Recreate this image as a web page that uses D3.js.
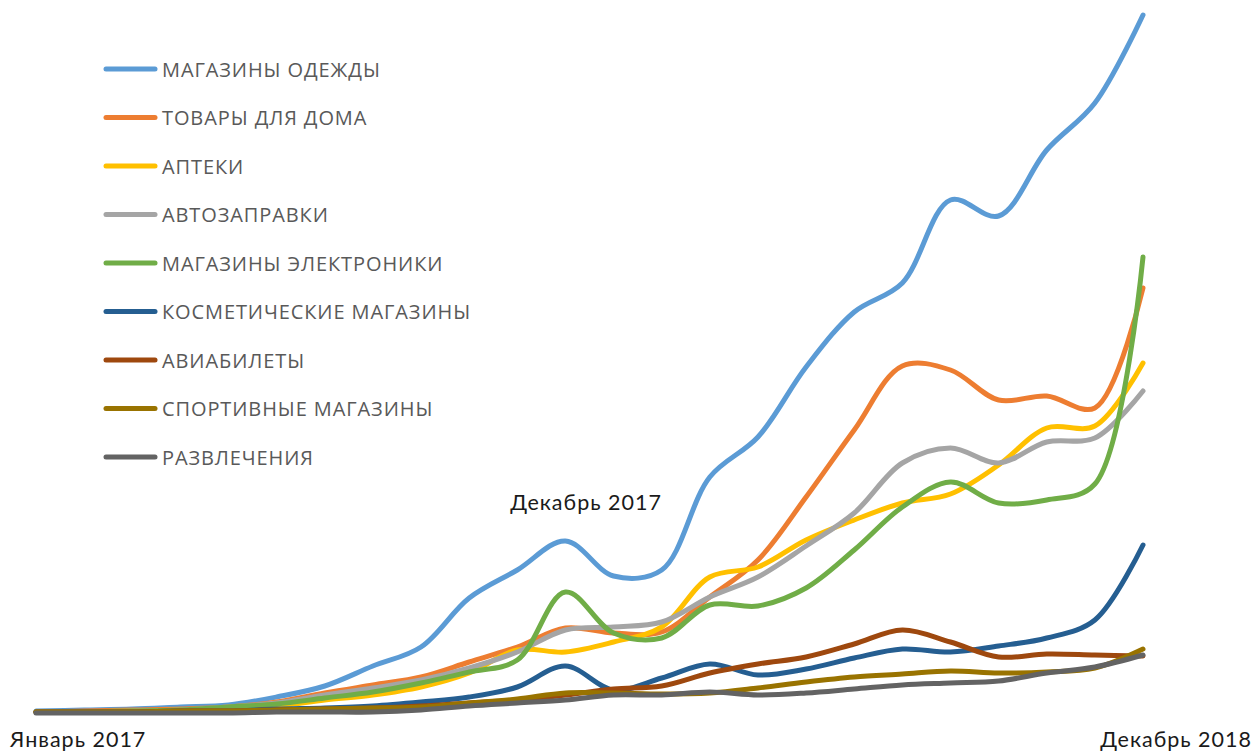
<!DOCTYPE html>
<html>
<head>
<meta charset="utf-8">
<script src="https://cdn.jsdelivr.net/npm/d3@7"></script>
<style>
  html, body { margin: 0; padding: 0; background: #fff; }
  svg { display: block; }
</style>
</head>
<body>
<svg id="chart" width="1256" height="751"></svg>
<script>
const months = [
  "Январь 2017","Февраль 2017","Март 2017","Апрель 2017","Май 2017","Июнь 2017",
  "Июль 2017","Август 2017","Сентябрь 2017","Октябрь 2017","Ноябрь 2017","Декабрь 2017",
  "Январь 2018","Февраль 2018","Март 2018","Апрель 2018","Май 2018","Июнь 2018",
  "Июль 2018","Август 2018","Сентябрь 2018","Октябрь 2018","Ноябрь 2018","Декабрь 2018"
];
const tickLabels = ["Январь 2017", "Декабрь 2017", "Декабрь 2018"];

const seriesNames = [
  "МАГАЗИНЫ ОДЕЖДЫ","ТОВАРЫ ДЛЯ ДОМА","АПТЕКИ","АВТОЗАПРАВКИ","МАГАЗИНЫ ЭЛЕКТРОНИКИ",
  "КОСМЕТИЧЕСКИЕ МАГАЗИНЫ","АВИАБИЛЕТЫ","СПОРТИВНЫЕ МАГАЗИНЫ","РАЗВЛЕЧЕНИЯ"
];
const seriesColors = ["#5B9BD5","#ED7D31","#FFC000","#A5A5A5","#70AD47","#255E91","#9E480E","#997300","#636363"];

const clothing    = [2,3,4,6,8,16,27,47,66,115,143,172,137,143,236,276,346,401,430,513,497,563,610,698];
const homeGoods   = [1,2,3,4,6,11,20,28,36,51,66,85,80,81,116,153,216,283,347,343,313,317,305,425];
const pharmacies  = [1,1,2,3,5,7,13,18,26,40,63,61,71,86,136,146,173,193,210,219,248,285,287,350];
const gasStations = [1,1,2,3,6,10,18,25,33,45,61,83,86,91,116,136,167,200,250,265,250,271,275,322];
const electronics = [1,1,2,3,6,9,15,21,30,41,53,121,80,75,108,107,125,163,206,231,210,213,229,456];
const cosmetics   = [1,1,1,2,2,4,5,7,11,16,26,47,23,35,49,38,44,55,64,61,67,75,93,168];
const airTickets  = [1,1,1,2,2,3,4,5,7,10,13,18,24,27,40,49,56,69,83,71,56,59,58,57];
const sports      = [1,1,1,2,2,3,4,5,6,10,14,20,20,19,20,25,31,36,39,42,40,41,45,64];
const entertainment = [0,0,0,0,0,1,1,1,3,7,10,13,18,18,21,18,20,24,28,30,32,40,46,58];

const seriesValues = [clothing, homeGoods, pharmacies, gasStations, electronics, cosmetics, airTickets, sports, entertainment];

const svg = d3.select("#chart");
const x = d3.scalePoint().domain(months).range([36, 1143]);
const y = d3.scaleLinear().domain([0, 700]).range([713, 13]);

const line = d3.line()
  .x((d, i) => x(months[i]))
  .y(d => y(d))
  .curve(d3.curveCatmullRom.alpha(0.5));

svg.append("g").selectAll("path")
  .data(seriesValues)
  .join("path")
  .attr("d", d => line(d))
  .attr("fill", "none")
  .attr("stroke", (d, i) => seriesColors[i])
  .attr("stroke-width", 5)
  .attr("stroke-linecap", "round")
  .attr("stroke-linejoin", "round");

// Legend
const legend = svg.append("g");
const lg = legend.selectAll("g").data(seriesNames).join("g")
  .attr("transform", (d, i) => `translate(0, ${69 + i * 48.5})`);
lg.append("line")
  .attr("x1", 106).attr("x2", 155).attr("y1", 0).attr("y2", 0)
  .attr("stroke", (d, i) => seriesColors[i])
  .attr("stroke-width", 5)
  .attr("stroke-linecap", "round");
lg.append("text")
  .attr("x", 162).attr("y", 7.5)
  .attr("font-family", "'Open Sans', sans-serif")
  .attr("font-size", 20)
  .attr("letter-spacing", 0.9)
  .attr("fill", "#595959")
  .text(d => d);

// Axis-style labels
const labelFont = "Lato, 'Noto Sans', sans-serif";
function label(txt, xPos, yPos, anchor) {
  svg.append("text")
    .attr("x", xPos).attr("y", yPos).attr("text-anchor", anchor)
    .attr("font-family", labelFont).attr("font-size", 21.5)
    .attr("letter-spacing", 1)
    .attr("fill", "#1a1a1a")
    .text(txt);
}
label(tickLabels[0], 10, 747, "start");
label(tickLabels[1], 586, 510, "middle");
label(tickLabels[2], 1252, 747, "end");
</script>
</body>
</html>
